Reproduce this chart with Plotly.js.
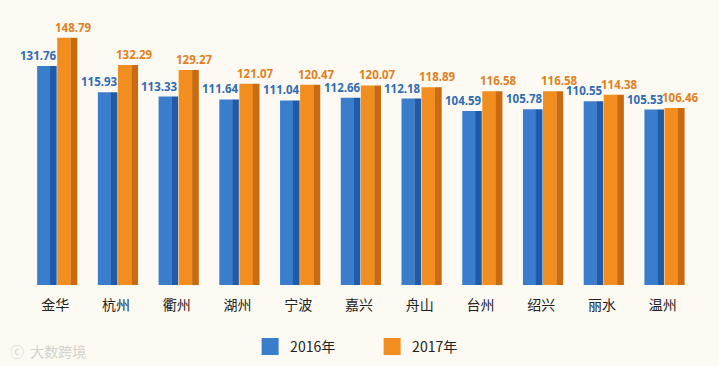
<!DOCTYPE html>
<html>
<head>
<meta charset="utf-8">
<script src="https://cdn.plot.ly/plotly-3.0.1.min.js"></script>
<style>html,body{margin:0;padding:0;background:#fdfaf3;}#chart{width:719px;height:366px;}</style>
</head>
<body>
<div id="chart"></div>
<script>
const cities = ["金华","杭州","衢州","湖州","宁波","嘉兴","舟山","台州","绍兴","丽水","温州"];
const values2016 = [131.76,115.93,113.33,111.64,111.04,112.66,112.18,104.59,105.78,110.55,105.53];
const values2017 = [148.79,132.29,129.27,121.07,120.47,120.07,118.89,116.58,116.58,114.38,106.46];
const seriesNames = ["2016年","2017年"];

const blueFront = "#3a7dcc", blueSide = "#1f5ba8";
const orangeFront = "#f18e1f", orangeSide = "#c96b10";

function bar(y, color, offset, width, name){
  return {type:"bar", x:cities, y:y, offset:offset, width:width,
    marker:{color:color, line:{width:0}}, name:name, showlegend:false,
    hoverinfo:"skip"};
}
function legendEntry(color, name){
  return {type:"bar", x:cities, y:cities.map(()=>null), name:name, showlegend:true,
    marker:{color:color, line:{color:color, width:6}}, hoverinfo:"skip"};
}
const traces = [
  bar(values2016, blueFront, -0.30, 0.215, seriesNames[0]),
  bar(values2016, blueSide, -0.088, 0.11, seriesNames[0]),
  bar(values2017, orangeFront, 0.03, 0.225, seriesNames[1]),
  bar(values2017, orangeSide, 0.252, 0.11, seriesNames[1]),
  legendEntry(blueFront, seriesNames[0]),
  legendEntry(orangeFront, seriesNames[1])
];

const annotations = [];
cities.forEach((c,i)=>{
  annotations.push({x:c, y:values2016[i], xref:"x", yref:"y", text:values2016[i].toFixed(2),
    showarrow:false, yanchor:"bottom", xshift:-17, yshift:1,
    font:{family:"Noto Sans, sans-serif", size:11.5, color:"#2f6cb4", weight:"bold"}});
  annotations.push({x:c, y:values2017[i], xref:"x", yref:"y", text:values2017[i].toFixed(2),
    showarrow:false, yanchor:"bottom", xshift:18, yshift:1,
    font:{family:"Noto Sans, sans-serif", size:11.5, color:"#e2801c", weight:"bold"}});
});
annotations.push({xref:"paper", yref:"paper", x:-0.025, y:-0.249, xanchor:"left", yanchor:"middle",
  text:"ⓒ  大数跨境", showarrow:false, font:{family:"Noto Sans CJK SC", size:14, color:"#d4d2cc"}});

const layout = {
  width:719, height:366,
  paper_bgcolor:"#fdfaf3", plot_bgcolor:"#fdfaf3",
  margin:{l:25, r:26, t:19, b:81, autoexpand:false},
  barmode:"overlay",
  xaxis:{type:"category", range:[-0.5,10.5], showgrid:false, zeroline:false, showline:false,
    ticks:"outside", ticklen:7, tickcolor:"rgba(0,0,0,0)",
    tickfont:{family:"Noto Sans CJK SC, sans-serif", size:14, color:"#222"}, fixedrange:true},
  yaxis:{range:[0,160], visible:false, showgrid:false, zeroline:false, fixedrange:true},
  showlegend:true,
  legend:{orientation:"h", x:0.337, xanchor:"left", y:-0.233, yanchor:"middle",
    entrywidth:77, entrywidthmode:"pixels", traceorder:"normal",
    font:{family:"Noto Sans CJK SC, sans-serif", size:14, color:"#222"}, bgcolor:"rgba(0,0,0,0)"},
  annotations:annotations
};
Plotly.newPlot("chart", traces, layout, {displayModeBar:false, staticPlot:true});
</script>
</body>
</html>
